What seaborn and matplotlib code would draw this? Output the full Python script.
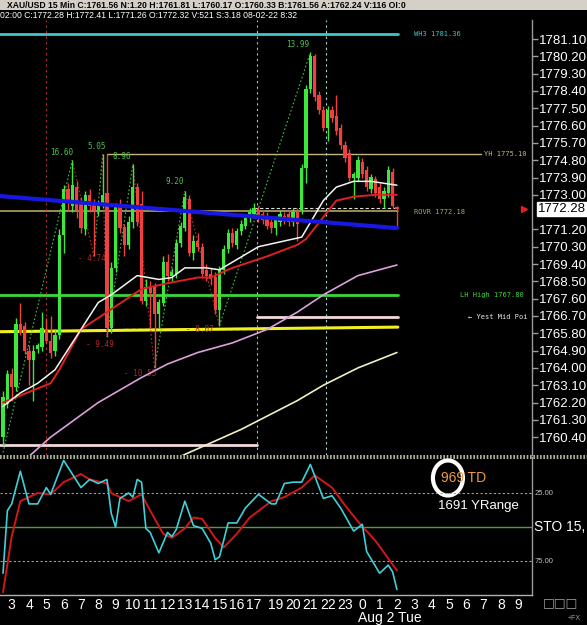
import numpy as np
import pandas as pd
import matplotlib
matplotlib.use("Agg")
import matplotlib.pyplot as plt
import seaborn as sns
from matplotlib.patches import Ellipse, Rectangle
from matplotlib.lines import Line2D
import matplotlib.transforms as mtransforms

# ---- 15 min candles, XAU/USD (bar index 0 .. 91) ----
bar_open = [1760.4, 1762.1, 1763.7, 1763.0, 1766.3, 1766.2, 1764.9, 1764.4, 1765.0, 1765.1,
            1766.0, 1765.4, 1764.9, 1765.7, 1770.9, 1773.3, 1772.4, 1773.4, 1772.6, 1771.2,
            1773.0, 1772.6, 1772.2, 1772.5, 1773.1, 1766.1, 1769.2, 1772.4, 1771.3, 1770.4,
            1771.6, 1773.4, 1772.5, 1767.5, 1768.2, 1768.2, 1766.8, 1767.4, 1769.5, 1768.8,
            1768.9, 1770.5, 1771.3, 1772.8, 1770.0, 1770.6, 1770.3, 1769.1, 1768.9, 1768.7,
            1767.0, 1769.1, 1770.2, 1771.0, 1770.4, 1771.1, 1771.4, 1771.8, 1772.0, 1772.2,
            1772.0, 1771.8, 1771.6, 1771.3, 1771.6, 1771.9, 1772.0, 1771.6, 1772.1, 1772.2,
            1774.4, 1778.5, 1780.2, 1778.2, 1777.4, 1776.5, 1777.4, 1777.1, 1776.5, 1775.6,
            1775.2, 1773.9, 1773.9, 1774.7, 1774.3, 1773.3, 1773.8, 1773.4, 1772.8, 1773.1,
            1774.2, 1772.32]
bar_high = [1762.8, 1763.9, 1764.0, 1766.6, 1767.4, 1766.4, 1765.2, 1765.2, 1765.3, 1766.9,
            1766.6, 1766.7, 1766.0, 1771.2, 1773.5, 1773.6, 1774.8, 1773.7, 1772.9, 1773.2,
            1773.3, 1772.8, 1772.7, 1775.1, 1775.1, 1769.5, 1772.6, 1772.8, 1771.5, 1771.9,
            1774.6, 1773.6, 1773.2, 1768.6, 1768.5, 1768.4, 1767.6, 1769.8, 1769.9, 1769.2,
            1770.7, 1771.6, 1773.2, 1773.0, 1770.9, 1771.0, 1770.5, 1769.4, 1769.2, 1769.0,
            1769.3, 1770.4, 1771.2, 1771.3, 1771.3, 1771.7, 1772.0, 1772.3, 1772.6, 1772.4,
            1772.2, 1772.1, 1771.9, 1771.9, 1772.2, 1772.1, 1772.2, 1772.3, 1772.3, 1774.6,
            1778.7, 1780.4, 1780.3, 1778.4, 1777.6, 1777.6, 1777.6, 1778.2, 1776.7, 1775.8,
            1775.4, 1774.2, 1775.0, 1774.9, 1774.5, 1774.1, 1774.0, 1773.6, 1773.4, 1774.5,
            1774.4, 1772.41]
bar_low = [1760.0, 1761.9, 1762.3, 1762.8, 1765.7, 1764.7, 1763.1, 1762.3, 1764.8, 1764.9,
           1765.3, 1764.5, 1764.6, 1765.5, 1770.0, 1772.2, 1772.1, 1771.8, 1771.0, 1770.9,
           1772.1, 1769.8, 1771.9, 1772.3, 1765.6, 1765.8, 1769.0, 1771.0, 1769.8, 1770.2,
           1771.3, 1771.4, 1767.3, 1767.2, 1766.1, 1764.0, 1766.1, 1767.2, 1768.5, 1768.5,
           1768.7, 1770.3, 1771.1, 1769.8, 1769.6, 1770.1, 1768.7, 1768.5, 1768.3, 1766.8,
           1766.2, 1768.9, 1770.0, 1770.3, 1770.2, 1770.9, 1771.2, 1771.6, 1771.8, 1771.6,
           1771.5, 1771.2, 1771.0, 1770.9, 1771.4, 1771.5, 1771.4, 1771.4, 1770.6, 1772.0,
           1773.6, 1778.3, 1777.9, 1777.2, 1776.3, 1775.8, 1776.8, 1776.1, 1775.4, 1774.7,
           1773.7, 1772.8, 1773.7, 1773.9, 1773.2, 1773.1, 1772.9, 1772.6, 1772.3, 1772.9,
           1772.3, 1771.26]
bar_close = [1762.5, 1763.7, 1763.0, 1766.3, 1765.8, 1764.9, 1764.4, 1764.9, 1765.2, 1766.1,
             1765.4, 1764.8, 1765.7, 1770.9, 1773.3, 1772.6, 1773.5, 1772.2, 1771.3, 1773.0,
             1772.4, 1772.2, 1772.5, 1773.0, 1766.1, 1769.2, 1772.4, 1771.3, 1770.4, 1771.6,
             1773.4, 1771.6, 1767.5, 1768.2, 1767.9, 1766.8, 1767.4, 1769.5, 1768.8, 1769.0,
             1770.5, 1771.4, 1772.9, 1770.0, 1770.6, 1770.3, 1768.9, 1768.8, 1768.6, 1767.0,
             1769.1, 1770.2, 1771.0, 1770.5, 1771.1, 1771.5, 1771.8, 1772.1, 1772.3, 1771.8,
             1771.7, 1771.4, 1771.3, 1771.7, 1772.0, 1771.7, 1771.6, 1772.1, 1771.5, 1774.4,
             1778.5, 1780.2, 1778.1, 1777.4, 1776.5, 1777.4, 1777.0, 1776.3, 1775.6, 1774.9,
             1773.9, 1774.1, 1774.8, 1774.1, 1773.4, 1773.9, 1773.1, 1772.8, 1773.2, 1774.3,
             1772.4, 1772.28]

# moving averages (bar index, price)
ma_white_x = [0, 4, 8, 12, 18, 22, 25, 31, 36, 39, 42, 47, 50, 53, 59, 69, 74, 77, 81, 85, 91]
ma_white_y = [1762.0, 1762.7, 1763.2, 1763.9, 1766.0, 1767.4, 1767.8, 1768.8, 1768.6, 1768.7,
              1769.2, 1769.2, 1769.1, 1769.5, 1770.3, 1770.8, 1772.7, 1773.4, 1773.7, 1773.7, 1773.5]
ma_red_x = [0, 11, 13, 18, 24, 32, 38, 45, 48, 53, 61, 68, 70, 77, 81, 86, 91]
ma_red_y = [1762.2, 1763.2, 1763.9, 1766.0, 1766.9, 1768.1, 1768.4, 1768.7, 1768.7, 1769.2,
            1769.8, 1770.4, 1770.7, 1772.7, 1772.9, 1773.0, 1773.0]
ma_pink_x = [6, 11, 22, 32, 38, 45, 53, 61, 68, 74, 82, 91]
ma_pink_y = [1759.4, 1760.4, 1762.2, 1763.5, 1764.2, 1764.8, 1765.3, 1766.0, 1766.9, 1767.8,
             1768.8, 1769.35]
ma_cream_x = [41, 55, 68, 74, 82, 91]
ma_cream_y = [1759.4, 1760.8, 1762.3, 1763.1, 1764.0, 1764.8]

# trend / level lines
blue_x = [-1, 91]
blue_y = [1772.94, 1771.27]
yellow_x = [-1, 91.2]
yellow_y = [1765.88, 1766.12]

# zigzag swings
zig_x = [0, 16, 21, 23, 24, 30, 35, 42, 50, 71]
zig_y = [1759.6, 1774.8, 1769.8, 1775.1, 1765.6, 1774.6, 1764.0, 1773.2, 1766.2, 1780.4]
up_labels = [(13.6, 1775.2, "16.60"), (21.7, 1775.5, "5.05"), (27.5, 1775.0, "8.96"),
             (39.7, 1773.7, "9.20"), (68.0, 1780.8, "13.99")]
dn_labels = [(20.5, 1769.7, "- 4.74"), (22.4, 1765.2, "- 9.49"),
             (31.6, 1763.7, "- 10.55"), (45.5, 1766.0, "- 8.07")]

# stochastic (inverted scale as shown)
sto_k_x = [0, 1, 2, 4, 6, 8, 10, 11, 14, 16, 18, 20, 22, 24, 25, 26, 27, 29, 30, 31, 32, 33, 34,
           36, 38, 39, 40, 42, 44, 46, 48, 49, 50, 52, 54, 56, 59, 62, 63, 65, 67, 69, 71, 74,
           76, 78, 81, 83, 84, 87, 89, 90, 91]
sto_k_y = [84, 38, 33, 9, 33, 33, 21, 26, 1, 11, 21, 15, 18, 15, 40, 50, 29, 25, 28, 15, 17, 51,
           54, 69, 54, 57, 52, 31, 49, 51, 62, 74, 72, 47, 47, 36, 26, 33, 33, 18, 17, 17, 4, 29,
           27, 36, 53, 48, 68, 84, 78, 83, 96]
sto_d_x = [0, 2, 4, 8, 11, 14, 18, 20, 24, 25, 29, 32, 34, 37, 39, 42, 44, 46, 49, 51, 54, 57,
           62, 65, 69, 72, 76, 79, 82, 86, 91]
sto_d_y = [98, 57, 31, 25, 26, 17, 11, 15, 18, 25, 31, 26, 38, 55, 58, 51, 43, 44, 58, 65, 55, 43,
           31, 28, 21, 12, 21, 34, 46, 60, 82]

hour_pos = [2, 6, 10, 14, 18, 22, 26, 30, 34, 38, 42, 46, 50, 54, 58, 63, 67, 71, 75, 79, 83,
            87, 91, 95, 99, 103, 107, 111, 115, 119]
hour_lab = ["3", "4", "5", "6", "7", "8", "9", "10", "11", "12", "13", "14", "15", "16", "17",
            "19", "20", "21", "22", "23", "0", "1", "2", "3", "4", "5", "6", "7", "8", "9"]
price_ticks = [1760.40, 1761.30, 1762.20, 1763.10, 1764.00, 1764.90, 1765.80, 1766.70,
               1767.60, 1768.50, 1769.40, 1770.30, 1771.20, 1773.00, 1773.90,
               1774.80, 1775.70, 1776.60, 1777.50, 1778.40, 1779.30, 1780.20, 1781.10]

sns.set_style("dark", {"axes.facecolor": "black", "figure.facecolor": "black"})
plt.rcParams['font.family'] = ['Liberation Sans', 'DejaVu Sans']

fig = plt.figure(figsize=(5.87, 6.25), dpi=100)
ax = fig.add_axes([0, 0.272, 0.9063, 0.696])
ax2 = fig.add_axes([0, 0.048, 0.9063, 0.2208])
for a in (ax, ax2):
    a.set_facecolor("black")
    a.set_xlim(-0.7, 122.2)
    for s in ("top", "left", "bottom"):
        a.spines[s].set_visible(False)
    a.spines["right"].set_color("#9a9a9a")
    a.spines["right"].set_linewidth(1)
    a.grid(False)
ax2.spines["bottom"].set_visible(True)
ax2.spines["bottom"].set_color("#b0b0b0")
ax2.spines["bottom"].set_linewidth(1)

ax.set_ylim(1759.47, 1782.09)

# level lines
ax.plot([-1, 91.2], [1781.36, 1781.36], color="#3cc8c8", lw=2)
ax.plot([24, 110.5], [1775.10, 1775.10], color="#c8b47c", lw=1)
ax.plot([-1, 91.2], [1772.18, 1772.18], color="#b4a464", lw=1.2)
ax.plot([58, 91.2], [1772.30, 1772.30], color="#dcdcdc", lw=0.8, ls=(0, (3, 2)))
ax.plot([-1, 91.2], [1767.80, 1767.80], color="#38d838", lw=2)
ax.plot([58.7, 91.2], [1766.64, 1766.64], color="#f0d8dc", lw=2)
ax.plot([28, 58.7], [1766.02, 1766.02], color="#c8c800", lw=1, ls=(0, (3, 2)))
ax.plot(yellow_x, yellow_y, color="#f0f020", lw=2.2)
ax.plot([-1, 58.7], [1760.0, 1760.0], color="#f0d8dc", lw=2)

for xv, col in [(9.9, "#b03030"), (58.7, "#bcbcbc"), (74.6, "#a0e0d0")]:
    ax.axvline(xv, color=col, lw=0.8, ls=(0, (2, 3)))

# zigzag
for k in range(len(zig_x) - 1):
    col = "#40c040" if zig_y[k + 1] > zig_y[k] else "#b03030"
    ax.plot(zig_x[k:k + 2], zig_y[k:k + 2], color=col, lw=0.8, ls=(0, (1.5, 2)))
for xv, yv, t in up_labels:
    ax.text(xv, yv, t, color="#50c050", fontsize=5.5, ha="center", va="center",
            family="DejaVu Sans Mono")
for xv, yv, t in dn_labels:
    ax.text(xv, yv, t, color="#b02828", fontsize=5.5, ha="center", va="center",
            family="DejaVu Sans Mono")

# candles
o = np.array(bar_open)
c = np.array(bar_close)
idx = np.arange(len(o))
up = c >= o
cols = np.where(up, "#3ce83c", "#f04040")
ax.vlines(idx, bar_low, bar_high, colors=cols, lw=1, zorder=3)
body = np.maximum(np.abs(c - o), 0.08)
ax.bar(idx, body, bottom=np.minimum(o, c), width=0.74, color=cols, edgecolor=cols,
       linewidth=0, zorder=4)

# moving averages on top of candles
sns.lineplot(x=ma_cream_x, y=ma_cream_y, ax=ax, color="#f0f0c0", lw=1.2, zorder=5)
sns.lineplot(x=ma_pink_x, y=ma_pink_y, ax=ax, color="#dca0dc", lw=1.2, zorder=5)
sns.lineplot(x=ma_red_x, y=ma_red_y, ax=ax, color="#e02020", lw=1.4, zorder=5)
sns.lineplot(x=ma_white_x, y=ma_white_y, ax=ax, color="#f4f4f4", lw=1.1, zorder=5)
sns.lineplot(x=blue_x, y=blue_y, ax=ax, color="#1818e0", lw=3, zorder=6)

# level labels
lab_kw = dict(fontsize=5, va="center", family="DejaVu Sans Mono")
ax.text(95, 1781.36, "WH3 1781.36", color="#3cc8c8", **lab_kw)
ax.text(111, 1775.10, "YH 1775.10", color="#c8b47c", **lab_kw)
ax.text(95, 1772.08, "ROVR 1772.18", color="#b4a464", **lab_kw)
ax.text(105.5, 1767.80, "LH High 1767.80", color="#38d838", **lab_kw)
ax.text(107.3, 1766.64, "\u2190 Yest Mid Poi", color="#e8e8e8", **lab_kw)

ax.set_xticks([])
ax.yaxis.tick_right()
ax.set_yticks(price_ticks)
ax.set_yticklabels([f"{v:.2f}" for v in price_ticks])
ax.tick_params(axis="y", colors="#9a9a9a", labelcolor="white", labelsize=9.5,
               length=4, width=1, pad=1, direction="out")
ax.set_xlabel("")
ax.set_ylabel("")
tr = mtransforms.blended_transform_factory(ax.transAxes, ax.transData)
ax.text(1.012, 1772.28, "1772.28", transform=tr, color="black", fontsize=9.5, va="center",
        bbox=dict(facecolor="white", edgecolor="white", pad=0.8), clip_on=False)
ax.plot([0.985], [1772.28], marker=">", color="#e02020", ms=4, transform=tr, clip_on=False)

# stochastic panel
ax2.set_ylim(100, -1.5)
ax2.axhline(25, color="#a0a0a0", lw=0.8, ls=(0, (2, 2)))
ax2.axhline(75, color="#a0a0a0", lw=0.8, ls=(0, (2, 2)))
ax2.axhline(50, color="#5a9a3a", lw=1)
sns.lineplot(x=sto_d_x, y=sto_d_y, ax=ax2, color="#d01818", lw=1.4)
sns.lineplot(x=sto_k_x, y=sto_k_y, ax=ax2, color="#40d0d8", lw=1.2)
ax2.set_yticks([])
ax2.set_xticks(hour_pos)
ax2.set_xticklabels(hour_lab)
ax2.tick_params(axis="x", colors="white", labelsize=10, length=0, pad=2)
ax2.set_xlabel("")
ax2.set_ylabel("")
tr2 = mtransforms.blended_transform_factory(ax2.transAxes, ax2.transData)
ax2.text(1.005, 25, "25.00", transform=tr2, color="#c0c0c0", fontsize=5.5, va="center",
         clip_on=False)
ax2.text(1.005, 75, "75.00", transform=tr2, color="#c0c0c0", fontsize=5.5, va="center",
         clip_on=False)
ax2.text(1.003, 50, "STO 15,", transform=tr2, color="white", fontsize=10, va="center",
         clip_on=False)
ax2.text(0.872, 0.848, "969 TD", transform=ax2.transAxes, color="#f09848", fontsize=10,
         ha="center", va="center")
ax2.text(0.9, 0.645, "1691 YRange", transform=ax2.transAxes, color="white", fontsize=9.5,
         ha="center", va="center")
ax2.add_patch(Ellipse((0.842, 0.848), 0.0564, 0.254, transform=ax2.transAxes,
                      fill=False, edgecolor="white", lw=3))
ax2.text(89.4, -0.118, "Aug 2 Tue", transform=mtransforms.blended_transform_factory(
    ax2.transData, ax2.transAxes), color="white", fontsize=10, ha="center", va="top",
    clip_on=False)

# panel separator and header
fig.add_artist(Line2D([0, 1], [1 - 455.5 / 625] * 2, color="#d0d0b8", lw=1.2,
                      ls=(0, (1, 1)), transform=fig.transFigure))
fig.add_artist(Line2D([0, 1], [1 - 457.5 / 625] * 2, color="#d0d0b8", lw=1.2,
                      ls=(0, (1, 1)), transform=fig.transFigure))
fig.add_artist(Rectangle((0, 1 - 10 / 625), 1, 10 / 625, transform=fig.transFigure,
                         facecolor="#d4d0c8", edgecolor="none"))
fig.text(0.012, 1 - 7.5 / 625, "XAU/USD 15 Min C:1761.56 N:1.20 H:1761.81 L:1760.17 "
         "O:1760.33 B:1761.56 A:1762.24 V:116 OI:0", color="black", fontsize=6.2,
         weight="bold", va="baseline")
fig.text(0.0, 1 - 18 / 625, "02:00 C:1772.28 H:1772.41 L:1771.26 O:1772.32 V:521 "
         "S:3.18 08-02-22 8:32", color="white", fontsize=6.2, va="baseline")
fig.text(0.955, 1 - 603 / 625, "\u25a1\u25a1\u25a1", color="#a0a0a0", fontsize=9,
         family="DejaVu Sans", ha="center", va="center")
fig.text(0.99, 1 - 619 / 625, "+FX", color="#a0a0a0", fontsize=5, ha="right", va="center")

fig.savefig("out.png", dpi=100, facecolor="black")
